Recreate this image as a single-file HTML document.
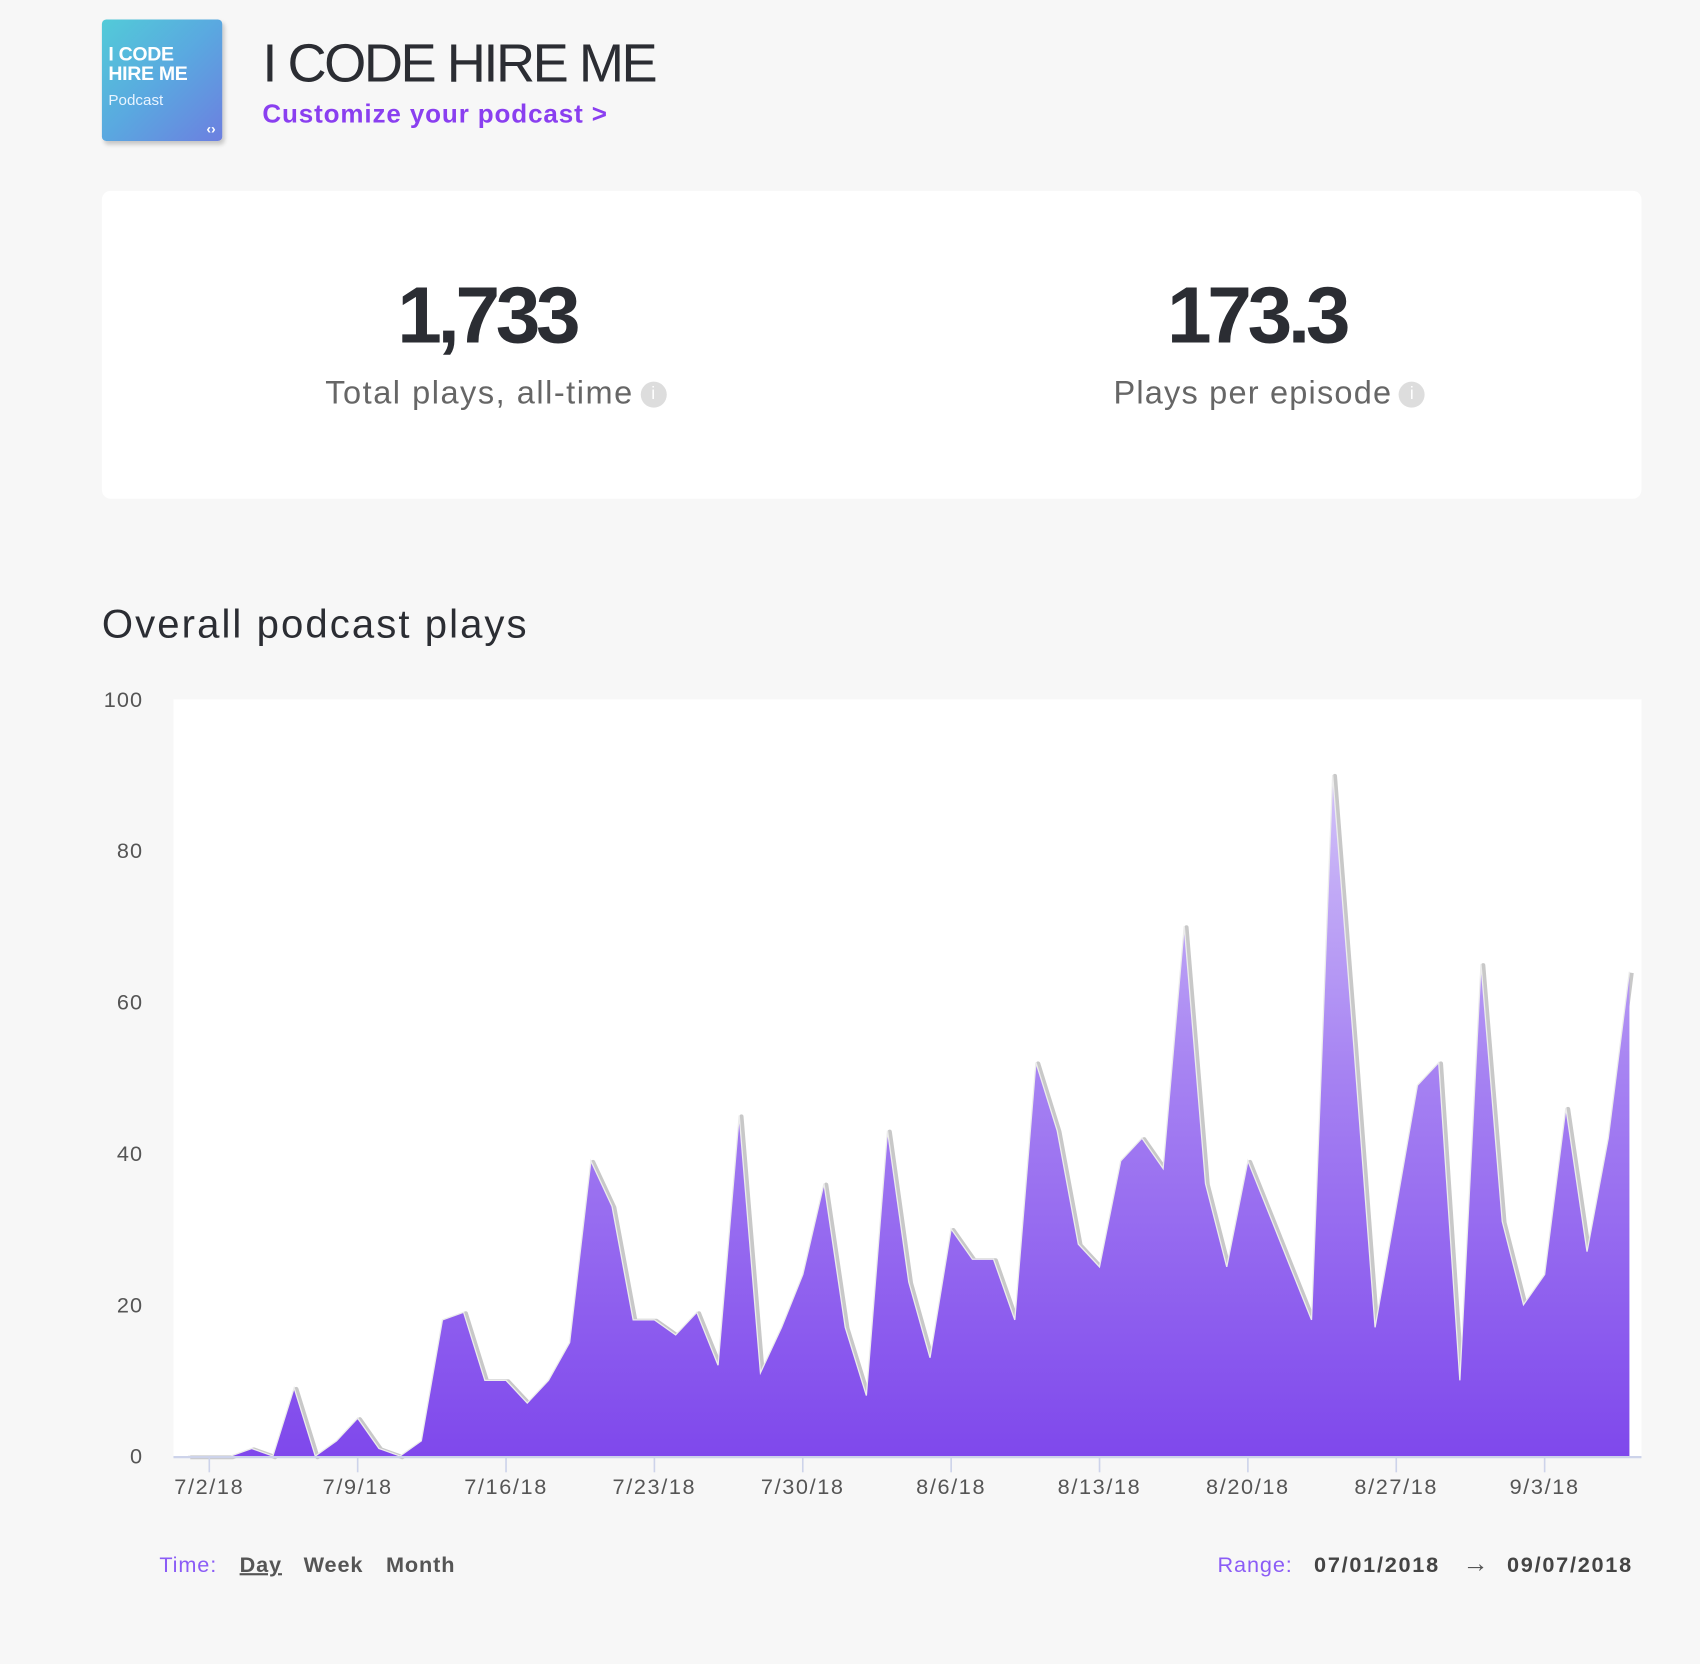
<!DOCTYPE html>
<html><head><meta charset="utf-8">
<style>
html,body{margin:0;padding:0;background:#f7f7f7;width:1700px;height:1664px;overflow:hidden}
#wrap{position:absolute;left:0;top:0;width:1568px;height:1535px;transform:scale(1.08418);transform-origin:0 0;font-family:"Liberation Sans",sans-serif;color:#2b2d33}
.abs{position:absolute}
</style></head><body>
<div id="wrap">
  <div class="abs" style="left:94px;top:18px;width:111px;height:112px;border-radius:4px;background:linear-gradient(135deg,#52cbd8 0%,#5aa8e0 50%,#6c7fe0 100%);box-shadow:2px 3px 4px rgba(0,0,0,0.2)">
    <div class="abs" style="left:6px;top:23px;color:#fff;font-weight:bold;font-size:18px;line-height:18px;letter-spacing:-0.3px">I CODE<br>HIRE ME</div>
    <div class="abs" style="left:6px;top:66px;color:#e8f4ff;font-size:14px">Podcast</div>
    <div class="abs" style="right:6px;bottom:4px;color:#fff;font-size:13px;font-weight:bold">‹›</div>
  </div>
  <div class="abs" style="left:242px;top:29px;font-size:50px;letter-spacing:-2.3px;color:#2b2d33">I CODE HIRE ME</div>
  <div class="abs" style="left:242px;top:92px;font-size:24px;font-weight:bold;color:#8a3ff0;letter-spacing:0.8px">Customize your podcast &gt;</div>

  <div class="abs" style="left:94px;top:176px;width:1420px;height:284px;background:#fff;border-radius:8px">
    <div class="abs" style="left:155px;width:400px;top:72px;text-align:center;font-size:74px;font-weight:bold;letter-spacing:-4px;color:#2b2d33">1,733</div>
    <div class="abs" style="left:206px;top:170px;font-size:30px;color:#666;letter-spacing:1.4px">Total plays, all-time<span style="display:inline-block;margin-left:6px;width:24px;height:24px;border-radius:12px;background:#ddd;color:#fff;font-size:16px;text-align:center;line-height:24px;vertical-align:middle;letter-spacing:0">i</span></div>
    <div class="abs" style="left:865px;width:400px;top:72px;text-align:center;font-size:74px;font-weight:bold;letter-spacing:-4px;color:#2b2d33">173.3</div>
    <div class="abs" style="left:933px;top:170px;font-size:30px;color:#666;letter-spacing:1.1px">Plays per episode<span style="display:inline-block;margin-left:6px;width:24px;height:24px;border-radius:12px;background:#ddd;color:#fff;font-size:16px;text-align:center;line-height:24px;vertical-align:middle;letter-spacing:0">i</span></div>
  </div>

  <div class="abs" style="left:94px;top:555px;font-size:37px;color:#2b2d33;letter-spacing:1.9px">Overall podcast plays</div>

  <svg class="abs" style="left:0;top:0" width="1568" height="1535" id="chart">
    <defs>
      <linearGradient id="fillg" x1="0" y1="0" x2="0" y2="1">
        <stop offset="0" stop-color="#d2c2f8"/>
        <stop offset="0.45" stop-color="#a581f2"/>
        <stop offset="1" stop-color="#7f48ec"/>
      </linearGradient>
    </defs>
    <rect x="160" y="645" width="1354" height="698" fill="#fff"/>
    <g id="layer"></g>
  </svg>

  <div class="abs" style="left:147px;top:1433px;font-size:20px;color:#8b5cf6;letter-spacing:0.8px">Time:</div>
  <div class="abs" style="left:221px;top:1433px;font-size:20px;font-weight:bold;color:#555;text-decoration:underline;letter-spacing:0.8px">Day</div>
  <div class="abs" style="left:280px;top:1433px;font-size:20px;font-weight:bold;color:#555;letter-spacing:0.8px">Week</div>
  <div class="abs" style="left:356px;top:1433px;font-size:20px;font-weight:bold;color:#555;letter-spacing:0.8px">Month</div>
  <div class="abs" style="left:1123px;top:1433px;font-size:20px;color:#8b5cf6;letter-spacing:0.8px">Range:</div>
  <div class="abs" style="left:1212px;top:1433px;font-size:20px;font-weight:bold;color:#444;letter-spacing:1.6px">07/01/2018</div>
  <div class="abs" style="left:1349px;top:1429px;font-size:24px;color:#555">→</div>
  <div class="abs" style="left:1390px;top:1433px;font-size:20px;font-weight:bold;color:#444;letter-spacing:1.6px">09/07/2018</div>
</div>
<script>
const plays = [0,0,0,1,0,9,0,2,5,1,0,2,18,19,10,10,7,10,15,39,33,18,18,16,19,12,45,11,17,24,36,
17,8,43,23,13,30,26,26,18,52,43,28,25,39,42,38,70,36,25,39,32,25,18,90,54,17,33,49,52,10,65,
31,20,24,46,27,42,64];
const yTicks = [0,20,40,60,80,100];
const xTickLabels = ["7/2/18","7/9/18","7/16/18","7/23/18","7/30/18","8/6/18","8/13/18","8/20/18","8/27/18","9/3/18"];
const xTickDayIndex = [1,8,15,22,29,36,43,50,57,64];

const NS="http://www.w3.org/2000/svg";
const layer=document.getElementById('layer');
const x0=173.5, dx=19.55, yBase=1343, yTop=645, yMax=100;
function xs(i){return x0+i*dx;}
function ys(v){return yBase-(v/yMax)*(yBase-yTop);}
function mk(tag,attrs){const e=document.createElementNS(NS,tag);for(const k in attrs)e.setAttribute(k,attrs[k]);layer.appendChild(e);return e;}

yTicks.forEach(v=>{
  const t=mk('text',{x:132,y:ys(v)+7,'text-anchor':'end','font-size':20,fill:'#555','font-family':'Liberation Sans, sans-serif','letter-spacing':'1'});
  t.textContent=v;
  
  
});

let line='';
plays.forEach((v,i)=>{line+=(i?'L':'M')+xs(i).toFixed(1)+' '+ys(v).toFixed(1)+' ';});
const shadow=mk('path',{d:line,fill:'none',stroke:'#c8c8c8','stroke-width':4,transform:'translate(2,1)','stroke-linejoin':'round'});


const area=mk('path',{d:line+'L'+xs(plays.length-1).toFixed(1)+' '+yBase+' L'+xs(0)+' '+yBase+' Z',fill:'url(#fillg)'});


const stroke=mk('path',{d:line,fill:'none',stroke:'#ececec','stroke-width':1.2});



const axis=mk('line',{x1:160,x2:1514,y1:yBase+1,y2:yBase+1,stroke:'#cdd3ea','stroke-width':2});


xTickLabels.forEach((lab,k)=>{
  const x=xs(xTickDayIndex[k]);
  const tk=mk('line',{x1:x,x2:x,y1:yBase,y2:yBase+15,stroke:'#cdd3ea','stroke-width':1.5});
  
  
  const t=mk('text',{x:x,y:1378,'text-anchor':'middle','font-size':20,fill:'#555','font-family':'Liberation Sans, sans-serif','letter-spacing':'1.5'});
  t.textContent=lab;
  
  
});
</script>
</body></html>
